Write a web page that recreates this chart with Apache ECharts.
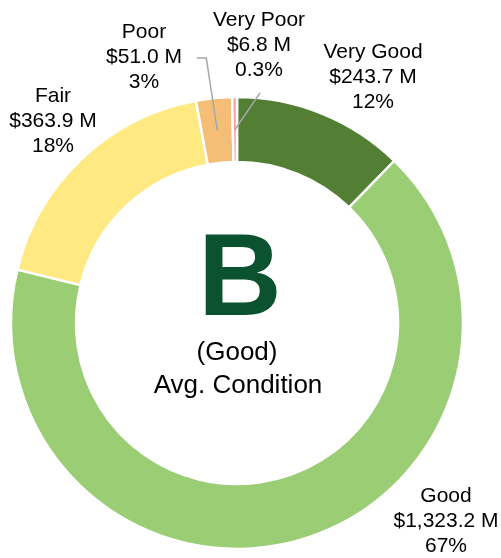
<!DOCTYPE html>
<html>
<head>
<meta charset="utf-8">
<script src="https://cdn.jsdelivr.net/npm/echarts@6/dist/echarts.min.js"></script>
<style>
  html, body { margin: 0; padding: 0; background: #fff; }
  #chart { width: 501px; height: 558px; }
</style>
</head>
<body>
<div id="chart"></div>
<script>
// Asset condition breakdown (value in $M)
const categories = ['Very Good', 'Good', 'Fair', 'Poor', 'Very Poor'];
const values = [243.7, 1323.2, 363.9, 51.0, 6.8];
const colors = ['#527F34', '#9BCD75', '#FFE982', '#F4BE77', '#F6A3A0'];

// Label block centres for each slice
const labelPos = [[373, 77], [446, 521], [53, 121], [144, 57], [259, 45]];

const gradeLetter = 'B';
const gradeWord = '(Good)';
const gradeCaption = 'Avg. Condition';

const CX = 237, CY = 323, R_IN = 161, R_OUT = 226, START = 90;
const FONT = 'Liberation Sans, Arial, sans-serif';
const total = values.reduce((a, b) => a + b, 0);

function fmtMoney(v) {
  return '$' + v.toLocaleString('en-US', { minimumFractionDigits: 1, maximumFractionDigits: 1 }) + ' M';
}
function fmtPct(v) {
  const p = v / total * 100;
  return (p < 1 ? p.toFixed(1) : Math.round(p).toString()) + '%';
}
// point in the middle of a slice's ring, from cumulative data
function sliceMid(i) {
  let before = 0;
  for (let k = 0; k < i; k++) before += values[k];
  const frac = (before + values[i] / 2) / total;
  const ang = (START - frac * 360) * Math.PI / 180;
  const r = (R_IN + R_OUT) / 2;
  return [CX + r * Math.cos(ang), CY - r * Math.sin(ang)];
}

const chart = echarts.init(document.getElementById('chart'), null, { renderer: 'canvas' });

// slices whose labels get a leader line
const withLine = { 3: true, 4: true };

const common = {
  type: 'pie',
  center: [CX, CY],
  radius: [R_IN, R_OUT],
  startAngle: START,
  clockwise: true,
  avoidLabelOverlap: false,
  emphasis: { disabled: true },
  silent: true
};

chart.setOption({
  animation: false,
  series: [
    // ring of slices
    Object.assign({}, common, {
      z: 2,
      itemStyle: { borderColor: '#fff', borderWidth: 2.5 },
      label: { show: false },
      labelLine: { show: false },
      data: categories.map((c, i) => ({
        name: c, value: values[i], itemStyle: { color: colors[i] }
      }))
    }),
    // labels and leader lines, drawn above the ring
    Object.assign({}, common, {
      z: 5,
      itemStyle: { color: 'rgba(0,0,0,0)', borderWidth: 0 },
      label: {
        show: true,
        position: 'outside',
        fontFamily: FONT,
        fontSize: 21,
        lineHeight: 25,
        color: '#000',
        align: 'center',
        formatter: p => p.name + '\n' + fmtMoney(p.value) + '\n' + fmtPct(p.value)
      },
      labelLine: {
        show: true,
        lineStyle: { color: '#A6A6A6', width: 1.5 }
      },
      labelLayout: function (params) {
        const i = params.dataIndex;
        const [lx, ly] = labelPos[i];
        const res = { x: lx, y: ly, align: 'center', verticalAlign: 'middle' };
        if (withLine[i]) {
          const m = sliceMid(i);
          if (i === 3) {
            res.labelLinePoints = [m, [m[0] - 11, ly + 1], [lx + 53, ly + 1]];
          } else {
            const end = [lx + 1, ly + 48];
            res.labelLinePoints = [m, [(m[0] + end[0]) / 2, (m[1] + end[1]) / 2], end];
          }
        }
        return res;
      },
      data: categories.map((c, i) => ({
        name: c,
        value: values[i],
        labelLine: { show: !!withLine[i] }
      }))
    })
  ],
  graphic: [
    {
      type: 'text', x: CX + 3, y: 283, z: 10,
      style: {
        text: gradeLetter, fill: '#0A5230', fontSize: 116, fontWeight: 'bold',
        fontFamily: FONT, align: 'center', verticalAlign: 'middle'
      }
    },
    {
      type: 'text', x: CX, y: 353, z: 10,
      style: {
        text: gradeWord, fill: '#000', fontSize: 26,
        fontFamily: FONT, align: 'center', verticalAlign: 'middle'
      }
    },
    {
      type: 'text', x: CX + 1, y: 386, z: 10,
      style: {
        text: gradeCaption, fill: '#000', fontSize: 26,
        fontFamily: FONT, align: 'center', verticalAlign: 'middle'
      }
    }
  ]
});
</script>
</body>
</html>
